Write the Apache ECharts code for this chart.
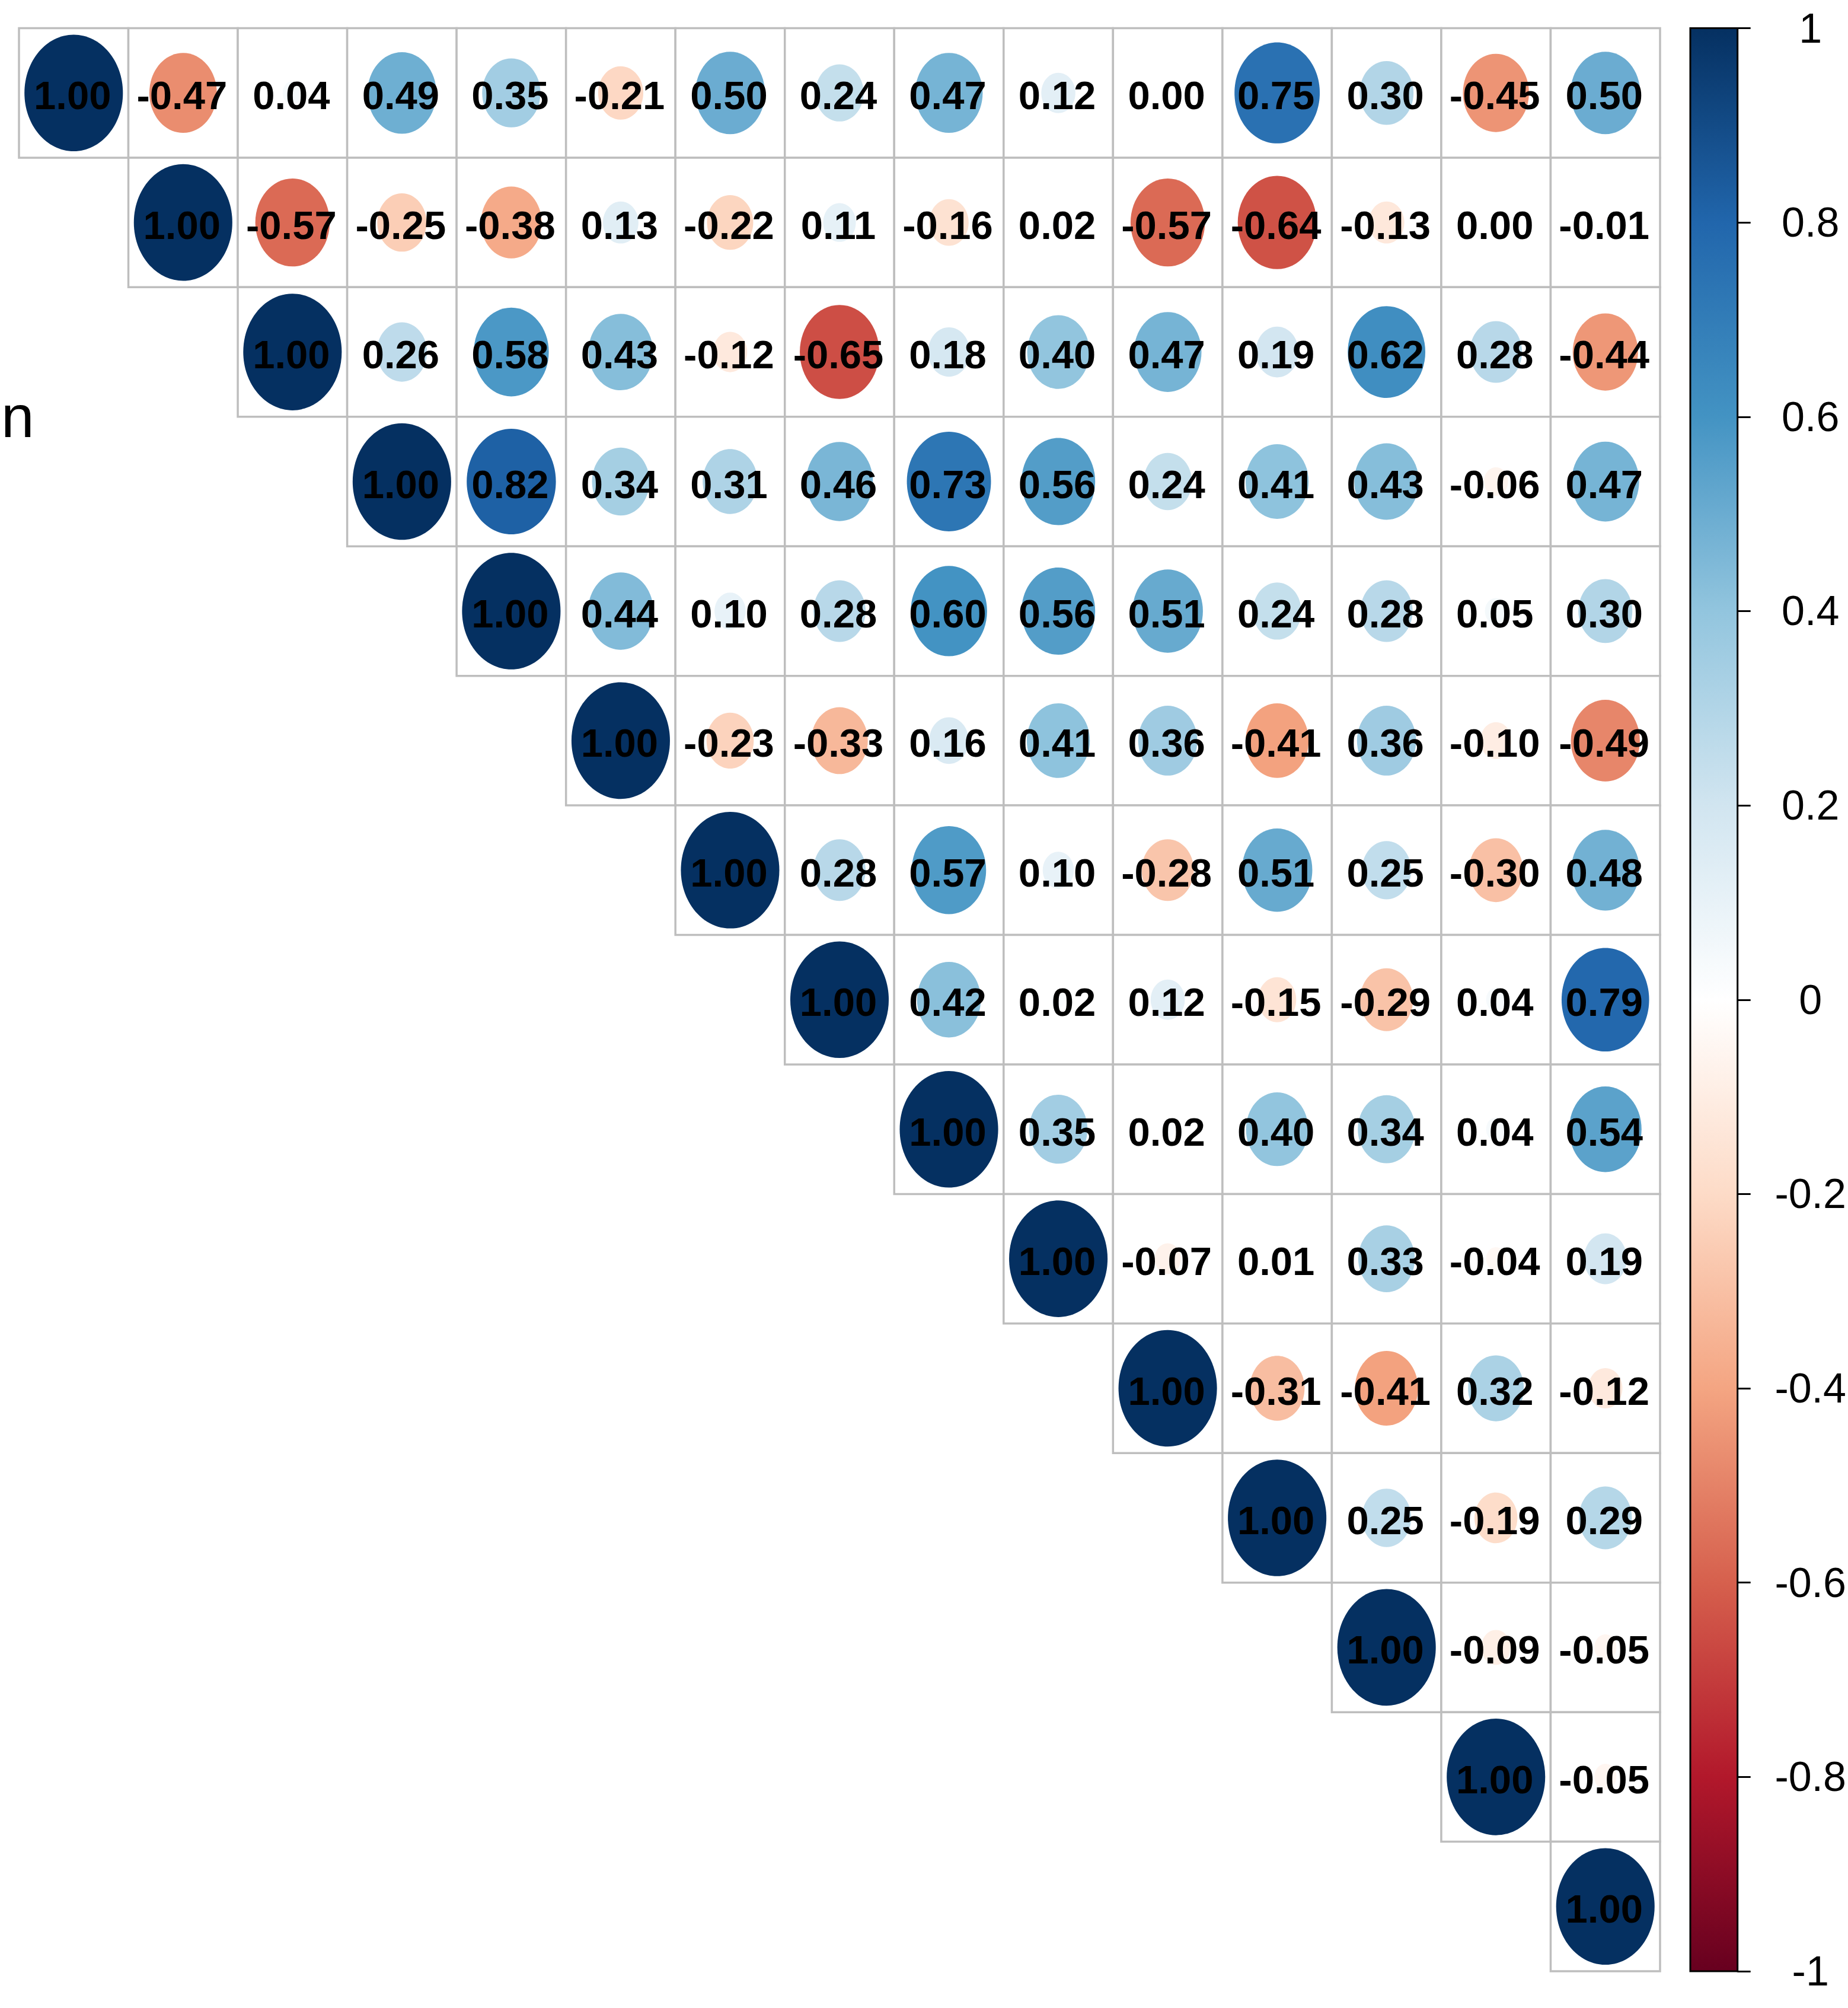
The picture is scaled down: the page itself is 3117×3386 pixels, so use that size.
<!DOCTYPE html>
<html>
<head>
<meta charset="utf-8">
<script src="https://cdn.jsdelivr.net/npm/echarts@6/dist/echarts.min.js"></script>
<style>
html,body{margin:0;padding:0;background:#ffffff;}
#chart{width:3117px;height:3386px;}
</style>
</head>
<body>
<div id="chart"></div>
<script>
// ---- data ----
const variables = ['V1','V2','V3','V4','V5','V6','V7','V8','V9','V10','V11','V12','V13','V14','V15'];
// upper-triangle rows (starting at the diagonal)
const row1  = [1.00, -0.47, 0.04, 0.49, 0.35, -0.21, 0.50, 0.24, 0.47, 0.12, 0.00, 0.75, 0.30, -0.45, 0.50];
const row2  = [1.00, -0.57, -0.25, -0.38, 0.13, -0.22, 0.11, -0.16, 0.02, -0.57, -0.64, -0.13, 0.00, -0.01];
const row3  = [1.00, 0.26, 0.58, 0.43, -0.12, -0.65, 0.18, 0.40, 0.47, 0.19, 0.62, 0.28, -0.44];
const row4  = [1.00, 0.82, 0.34, 0.31, 0.46, 0.73, 0.56, 0.24, 0.41, 0.43, -0.06, 0.47];
const row5  = [1.00, 0.44, 0.10, 0.28, 0.60, 0.56, 0.51, 0.24, 0.28, 0.05, 0.30];
const row6  = [1.00, -0.23, -0.33, 0.16, 0.41, 0.36, -0.41, 0.36, -0.10, -0.49];
const row7  = [1.00, 0.28, 0.57, 0.10, -0.28, 0.51, 0.25, -0.30, 0.48];
const row8  = [1.00, 0.42, 0.02, 0.12, -0.15, -0.29, 0.04, 0.79];
const row9  = [1.00, 0.35, 0.02, 0.40, 0.34, 0.04, 0.54];
const row10 = [1.00, -0.07, 0.01, 0.33, -0.04, 0.19];
const row11 = [1.00, -0.31, -0.41, 0.32, -0.12];
const row12 = [1.00, 0.25, -0.19, 0.29];
const row13 = [1.00, -0.09, -0.05];
const row14 = [1.00, -0.05];
const row15 = [1.00];
const colorbarTicks = [-1, -0.8, -0.6, -0.4, -0.2, 0, 0.2, 0.4, 0.6, 0.8, 1];
const palette = ['#67001F','#B2182B','#D6604D','#F4A582','#FDDBC7','#FFFFFF','#D1E5F0','#92C5DE','#4393C3','#2166AC','#053061'];

const rows = [row1,row2,row3,row4,row5,row6,row7,row8,row9,row10,row11,row12,row13,row14,row15];
const cells = [];
rows.forEach(function (r, i) {
  r.forEach(function (v, k) { cells.push([i + k, i, v]); });
});

// ---- render helpers ----
function borderRender(params, api) {
  const c = api.coord([api.value(0), api.value(1)]);
  const s = api.size([1, 1]);
  return {
    type: 'rect',
    shape: { x: c[0] - s[0] / 2, y: c[1] - s[1] / 2, width: s[0], height: s[1] },
    style: { fill: '#ffffff', stroke: '#BEBEBE', lineWidth: 3.5 }
  };
}
function circleRender(params, api) {
  const c = api.coord([api.value(0), api.value(1)]);
  const s = api.size([1, 1]);
  const v = api.value(2);
  const k = 0.45 * Math.sqrt(Math.abs(v));
  return {
    type: 'group',
    children: [
      { type: 'ellipse', shape: { cx: c[0], cy: c[1], rx: k * s[0], ry: k * s[1] },
        style: { fill: api.visual('color') } },
      { type: 'text', x: c[0] - 2, y: c[1] + 4,
        style: { text: v.toFixed(2), fill: '#000000', fontSize: 67, fontWeight: 'bold',
                 fontFamily: '"Liberation Sans", Arial, sans-serif', align: 'center', verticalAlign: 'middle' } }
    ]
  };
}
function colorbarRender(params, api) {
  const top = api.coord([0, colorbarTicks[colorbarTicks.length - 1]]);
  const bot = api.coord([0, colorbarTicks[0]]);
  const w = api.size([1, 0])[0];
  const stops = palette.slice().reverse().map(function (c, i) { return { offset: i / (palette.length - 1), color: c }; });
  return {
    type: 'rect',
    shape: { x: top[0] - w / 2, y: top[1], width: w, height: bot[1] - top[1] },
    style: { fill: new echarts.graphic.LinearGradient(0, 0, 0, 1, stops), stroke: '#000000', lineWidth: 3 }
  };
}

const chart = echarts.init(document.getElementById('chart'), null, { renderer: 'svg' });
chart.setOption({
  backgroundColor: '#ffffff',
  animation: false,
  grid: [
    { left: 32, top: 47.5, width: 2768, height: 3276.5 },
    { left: 2851, top: 47.5, width: 102, height: 3276.5 }
  ],
  xAxis: [
    { type: 'category', data: variables, gridIndex: 0, show: false },
    { type: 'category', data: ['scale'], gridIndex: 1, show: false }
  ],
  yAxis: [
    { type: 'category', data: variables, gridIndex: 0, inverse: true, show: false },
    { type: 'value', gridIndex: 1, min: -1, max: 1, interval: 0.2, position: 'right',
      axisLine: { show: true, lineStyle: { color: '#000000', width: 3 } },
      axisTick: { show: true, length: 22, lineStyle: { color: '#000000', width: 3 } },
      axisLabel: { show: true, margin: 123, align: 'center', fontSize: 70, color: '#000000',
                   fontFamily: '"Liberation Sans", Arial, sans-serif',
                   formatter: function (v) { return String(Math.round(v * 10) / 10); } },
      splitLine: { show: false } }
  ],
  visualMap: {
    show: false, type: 'continuous', min: -1, max: 1, dimension: 2, seriesIndex: [1],
    inRange: { color: palette }
  },
  graphic: [
    { type: 'text', x: 2, y: 702,
      style: { text: 'n', fontSize: 100, fontFamily: '"Liberation Sans", Arial, sans-serif',
               fill: '#000000', align: 'left', verticalAlign: 'middle' } }
  ],
  series: [
    { type: 'custom', xAxisIndex: 0, yAxisIndex: 0, data: cells, renderItem: borderRender, silent: true },
    { type: 'custom', xAxisIndex: 0, yAxisIndex: 0, data: cells, renderItem: circleRender, silent: true },
    { type: 'custom', xAxisIndex: 1, yAxisIndex: 1, data: [[0, -1, 1]], renderItem: colorbarRender, silent: true }
  ]
});
</script>
</body>
</html>
